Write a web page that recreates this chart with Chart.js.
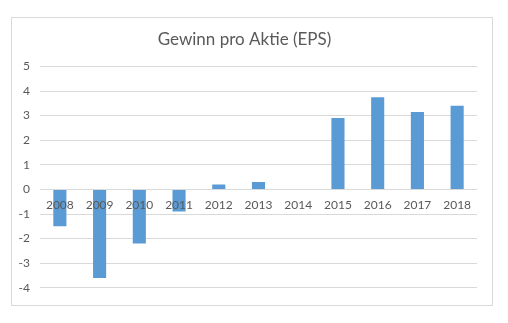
<!DOCTYPE html>
<html>
<head>
<meta charset="utf-8">
<script src="https://cdn.jsdelivr.net/npm/chart.js@4.4.0/dist/chart.umd.min.js"></script>
<style>
  body { margin: 0; background: #fff; }
  #box {
    position: absolute;
    left: 11px;
    top: 17px;
    width: 480px;
    height: 287px;
    border: 1px solid #d9d9d9;
  }
</style>
</head>
<body>
<div id="box"><canvas id="epsChart" width="480" height="287"></canvas></div>
<script>
const years = ['2008', '2009', '2010', '2011', '2012', '2013', '2014', '2015', '2016', '2017', '2018'];
const eps = [-1.5, -3.6, -2.2, -0.9, 0.2, 0.3, 0, 2.9, 3.75, 3.15, 3.4];
const yTicks = [-4, -3, -2, -1, 0, 1, 2, 3, 4, 5];

const textColor = '#595959';
const fontName = 'Lato';

const ctx = document.getElementById('epsChart').getContext('2d');
const epsChart = new Chart(ctx, {
    type: 'bar',
    data: {
        labels: years,
        datasets: [{
            label: 'EPS',
            data: eps,
            backgroundColor: '#5b9bd5',
            borderWidth: 0,
            barPercentage: 0.33,
            categoryPercentage: 1
        }]
    },
    options: {
        responsive: false,
        animation: false,
        layout: {
            padding: { left: 0, right: 15, top: 0, bottom: 15 }
        },
        plugins: {
            legend: { display: false },
            tooltip: { enabled: false },
            title: {
                display: true,
                text: 'Gewinn pro Aktie (EPS)',
                color: textColor,
                font: { family: fontName, size: 17, weight: 'normal' },
                padding: { top: 11, bottom: 17 }
            }
        },
        scales: {
            x: {
                // year labels sit on the zero line, drawn over the bars
                position: { y: 0 },
                afterFit: function(scale) {
                    scale.height = 0;
                },
                grid: { display: false },
                border: { display: false },
                ticks: {
                    z: 1,
                    color: textColor,
                    font: { family: fontName, size: 12 },
                    padding: 1,
                    maxRotation: 0
                }
            },
            y: {
                min: yTicks[0],
                max: yTicks[yTicks.length - 1],
                afterFit: function(scale) {
                    scale.width = 28;
                },
                afterBuildTicks: function(scale) {
                    scale.ticks = yTicks.map(v => ({ value: v }));
                },
                grid: {
                    color: '#d9d9d9',
                    lineWidth: 1,
                    drawTicks: false
                },
                border: { display: false },
                ticks: {
                    color: textColor,
                    font: { family: fontName, size: 12 },
                    padding: 10
                }
            }
        }
    }
});
</script>
</body>
</html>
